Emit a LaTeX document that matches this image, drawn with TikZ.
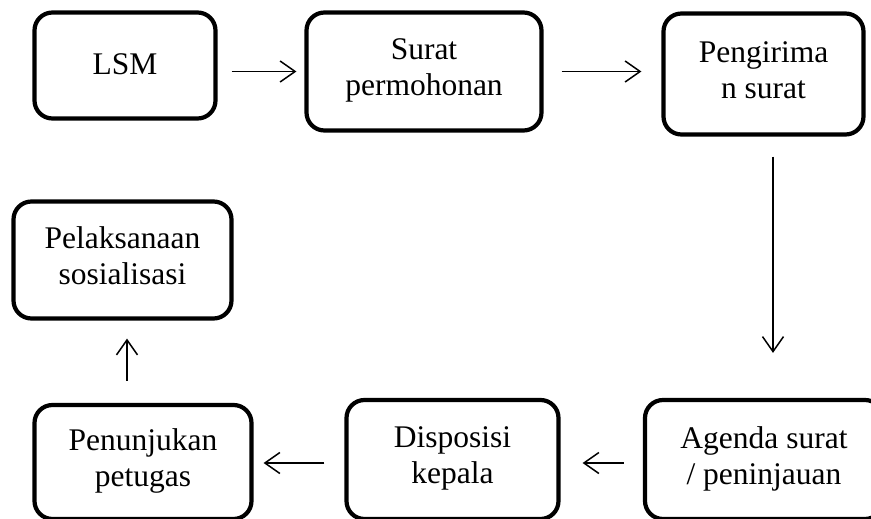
\documentclass[tikz,border=0pt]{standalone}
\usepackage{fontspec}
\setmainfont{Liberation Serif}
\usetikzlibrary{arrows.meta}

\begin{document}
\begin{tikzpicture}[
x=1pt,y=-1pt,
box/.style={
draw,
line width=4.2pt,
rounded corners=18pt,
align=center,
inner sep=0pt,
font=\fontsize{31.5}{36}\selectfont,
execute at begin node={\rule{0pt}{27.5pt}},
execute at end node={\rule[-8.5pt]{0pt}{8.5pt}}
},
arr/.style={
line width=1.5pt,
-{Straight Barb[length=15pt,width=21pt,line width=1.5pt]}
}
]

\useasboundingbox (0,0) rectangle (871,519);

\node[box,minimum width=181pt,minimum height=106pt] (LSM) at (125,65.5) {LSM};

\node[box,minimum width=235pt,minimum height=118pt] (Surat) at (424,71.5) {Surat\\permohonan};

\node[box,minimum width=200pt,minimum height=121pt] (Kirim) at (763.5,74) {Pengirima\\n surat};

\node[box,minimum width=238pt,minimum height=119pt] (Agenda) at (764,459.5) {Agenda surat\\/ peninjauan};

\node[box,minimum width=212pt,minimum height=119pt] (Disposisi) at (452.5,459.5) {Disposisi\\kepala};

\node[box,minimum width=217pt,minimum height=114pt] (Petugas) at (143,462) {Penunjukan\\petugas};

\node[box,minimum width=218pt,minimum height=117pt] (Sosialisasi) at (122.5,260) {Pelaksanaan\\sosialisasi};

\draw[arr,shorten <=14pt,shorten >=8pt] (LSM.east |- Surat.west)--(Surat.west);
\draw[arr,shorten <=18pt,shorten >=20pt] (Surat.east)--(Surat.east -| Kirim.west);
\draw[arr,shorten <=20pt,shorten >=45pt] ([xshift=9.5pt]Kirim.south)--([xshift=9.5pt]Kirim.south |- Agenda.north);
\draw[arr,shorten <=19pt,shorten >=22pt] ([yshift=-3.5pt]Agenda.west)--([yshift=-3.5pt]Agenda.west -| Disposisi.east);
\draw[arr,shorten <=20pt,shorten >=10pt] ([yshift=-3.5pt]Disposisi.west)--([yshift=-3.5pt]Disposisi.west -| Petugas.east);
\draw[arr,shorten <=22pt,shorten >=18pt] ([xshift=-16pt]Petugas.north)--([xshift=-16pt]Petugas.north |- Sosialisasi.south);

\end{tikzpicture}
\end{document}
